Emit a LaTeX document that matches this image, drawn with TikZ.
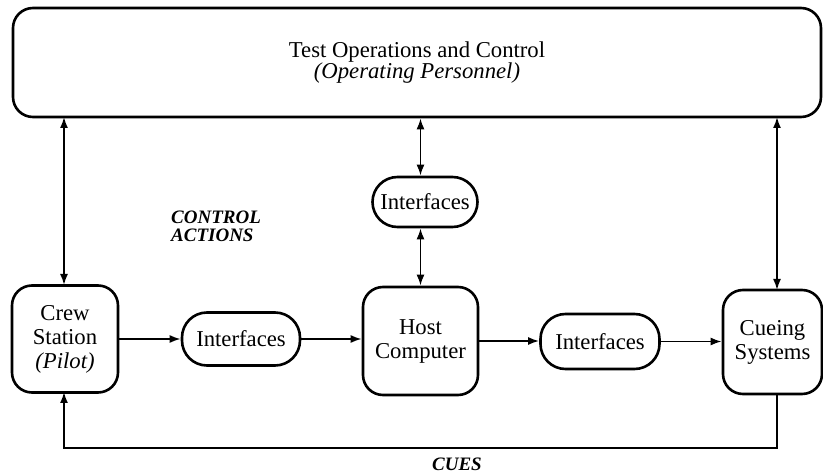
\documentclass[tikz,border=0pt]{standalone}
\usepackage{fontspec}
\setmainfont{Liberation Serif}
\usetikzlibrary{arrows.meta}
\begin{document}
\begin{tikzpicture}[x=1pt,y=-1pt,
  box/.style={draw, line width=2.6pt, rounded corners=20pt, align=center, inner sep=0pt,
    font=\fontsize{22.7}{24}\selectfont},
  pill/.style={draw, line width=2.6pt, rounded corners=25pt, align=center, inner sep=0pt,
    font=\fontsize{22.7}{24}\selectfont},
  conn/.style={line width=1.8pt, -{Latex[length=11pt,width=8pt]}},
  dconn/.style={line width=1.8pt, {Latex[length=11pt,width=8pt]}-{Latex[length=11pt,width=8pt]}},
  lbl/.style={font=\fontsize{19}{18}\selectfont\bfseries\itshape, inner sep=0pt, align=left}
]
\useasboundingbox (0,0) rectangle (823,473);

\node[box, minimum width=808pt, minimum height=109pt, font=\fontsize{22.7}{21}\selectfont] (top) at (417,62.5)
  {Test Operations and Control\\\textit{(Operating Personnel)}};

\node[box, minimum width=106pt, minimum height=107pt] (crew) at (65,339)
  {Crew\\Station\\\textit{(Pilot)}};
\node[pill, minimum width=118pt, minimum height=53pt] (int1) at (241,339) {Interfaces};
\node[box, minimum width=115pt, minimum height=108pt] (host) at (420.5,341)
  {Host\\Computer};
\node[pill, minimum width=105pt, minimum height=50pt] (inttop) at (425,202) {Interfaces};
\node[pill, minimum width=119pt, minimum height=55pt] (int2) at (600,341.5) {Interfaces};
\node[box, minimum width=99pt, minimum height=104pt] (cue) at (772.5,342)
  {Cueing\\Systems};

\node[lbl, anchor=north west] (ctrl) at (171,211) {CONTROL\\ACTIONS};
\node[lbl] (cues) at (457,464) {CUES};

\coordinate (rtop) at (777,117);
\coordinate (rcue) at (777,290);
\coordinate (rbot) at (777,394);
\coordinate (corner1) at (777,448);
\coordinate (corner2) at (64,448);
\coordinate (ltop) at (64,117);
\coordinate (lcrew) at (64,285);
\coordinate (lcrewb) at (64,392);

\draw[dconn] (ltop) -- (lcrew);
\draw[dconn] (rtop) -- (rcue);
\draw[dconn] (top.south -| host.north) -- (inttop.north -| host.north);
\draw[dconn] (inttop.south -| host.north) -- (host.north);
\draw[conn] (crew.east) -- (crew.east -| int1.west);
\draw[conn] (int1.east) -- (int1.east -| host.west);
\draw[conn] (host.east) -- (host.east -| int2.west);
\draw[conn] (int2.east) -- (int2.east -| cue.west);
\draw[conn] (rbot) -- (corner1) -- (corner2) -- (lcrewb);
\end{tikzpicture}
\end{document}
